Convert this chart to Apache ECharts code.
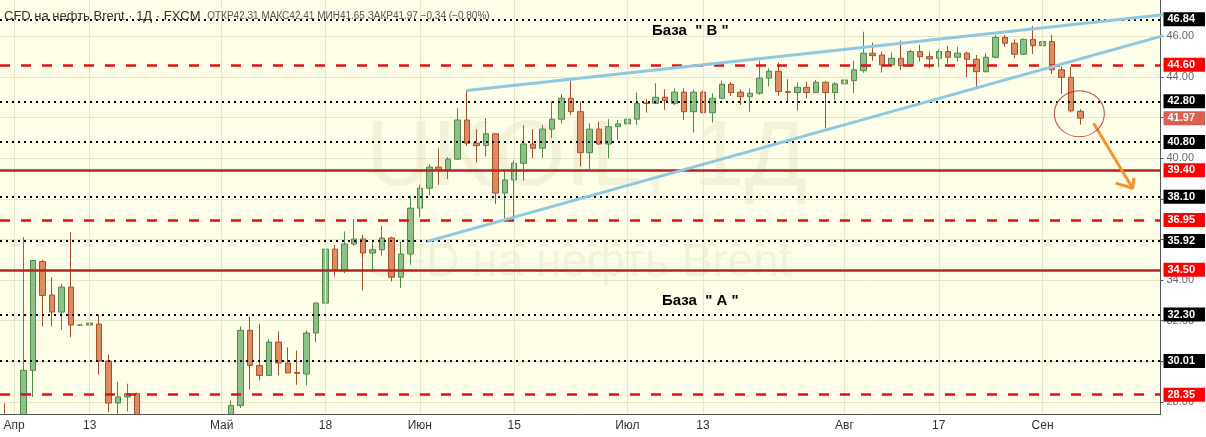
<!DOCTYPE html>
<html>
<head>
<meta charset="utf-8">
<title>UKOIL 1Д</title>
<script src="https://cdn.jsdelivr.net/npm/echarts/dist/echarts.min.js"></script>
<style>
  html, body { margin: 0; padding: 0; background: #fff; }
  #chart { width: 1206px; height: 437px; }
</style>
</head>
<body>
<div id="chart"></div>
<script>
// trading days from 2020-03-31, weekdays only
const dayCount = 123;
const dates = [];
const cursor = new Date(Date.UTC(2020, 2, 31));
while (dates.length < dayCount) {
  const wd = cursor.getUTCDay();
  if (wd !== 0 && wd !== 6) dates.push(cursor.toISOString().slice(0, 10));
  cursor.setUTCDate(cursor.getUTCDate() + 1);
}

const tickDates = ["2020-04-01", "2020-04-13", "2020-05-01", "2020-05-18", "2020-06-01", "2020-06-15",
  "2020-07-01", "2020-07-13", "2020-08-03", "2020-08-17", "2020-09-01"];
const tickLabels = ["Апр", "13", "Май", "18", "Июн", "15", "Июл", "13", "Авг", "17", "Сен"];

// OHLC, Mar 31 .. Sep 7
const opens = [22.8, 24.6, 25.0, 29.55, 34.91, 33.26, 32.42, 33.65, 31.78, 31.78,
  31.83, 30.01, 27.94, 28.24, 28.40, 25.6, 19.3, 20.4, 21.3, 21.4,
  19.9, 20.5, 22.5, 25.3, 26.4, 27.82, 31.52, 29.79, 29.30, 30.94,
  29.91, 29.45, 29.37, 31.39, 32.86, 35.52, 34.50, 35.77, 36.02, 35.33,
  35.49, 36.07, 34.14, 35.28, 37.54, 38.52, 39.56, 39.39, 39.95, 41.88,
  40.74, 40.62, 41.20, 38.28, 38.93, 39.75, 40.70, 40.49, 41.43, 41.92,
  42.95, 42.29, 40.27, 41.43, 40.70, 41.55, 41.69, 41.92, 42.72, 42.70,
  43.00, 42.70, 43.25, 42.29, 43.25, 42.24, 42.95, 43.64, 43.25, 43.03,
  43.20, 43.94, 44.28, 43.28, 43.23, 43.49, 43.23, 43.74, 43.23, 43.66,
  43.82, 44.31, 45.17, 45.08, 44.59, 44.92, 44.56, 45.25, 45.00, 44.92,
  45.25, 44.97, 45.17, 44.87, 44.26, 44.97, 45.95, 45.66, 45.12, 45.85,
  45.54, 45.74, 44.35, 43.98, 42.31];
const closes = [22.7, 24.9, 29.55, 34.96, 33.24, 32.42, 33.65, 31.78, 31.78, 31.88,
  30.01, 27.94, 28.24, 28.40, 25.6, 19.3, 20.4, 21.3, 21.4, 19.9,
  20.5, 22.5, 25.3, 26.4, 27.82, 31.52, 29.79, 29.30, 30.94, 29.91,
  29.42, 29.40, 31.39, 32.86, 35.52, 34.50, 35.77, 36.02, 35.33, 35.49,
  36.07, 34.14, 35.28, 37.54, 38.52, 39.56, 39.39, 39.95, 41.88, 40.74,
  40.62, 41.20, 38.28, 38.93, 39.75, 40.70, 40.49, 41.43, 41.92, 42.95,
  42.29, 40.27, 41.43, 40.70, 41.55, 41.69, 41.92, 42.70, 42.70, 43.00,
  42.84, 43.25, 42.29, 43.25, 42.24, 42.95, 43.64, 43.23, 43.03, 43.20,
  43.94, 44.28, 43.28, 43.24, 43.49, 43.23, 43.74, 43.23, 43.66, 43.85,
  44.35, 45.17, 45.05, 44.59, 44.92, 44.56, 45.25, 45.00, 44.89, 45.25,
  44.97, 45.17, 44.87, 44.26, 44.97, 45.95, 45.66, 45.12, 45.85, 45.54,
  45.74, 44.35, 43.98, 42.33, 41.97];
const lows = [22.0, 23.6, 24.6, 28.24, 31.71, 31.71, 31.55, 31.19, 31.76, 30.60,
  29.34, 27.5, 27.3, 27.53, 24.8, 17.9, 16.0, 19.9, 20.4, 19.2,
  19.0, 20.1, 22.1, 25.0, 25.8, 27.70, 28.60, 29.05, 29.30, 29.30,
  29.42, 28.84, 28.81, 30.94, 32.86, 34.17, 34.34, 35.68, 33.48, 34.42,
  35.19, 33.93, 33.60, 34.75, 37.09, 38.19, 38.69, 38.97, 39.92, 40.60,
  39.78, 40.08, 37.75, 37.05, 37.05, 38.89, 40.00, 40.00, 40.98, 41.72,
  42.13, 39.59, 39.46, 40.65, 40.00, 40.90, 40.93, 41.64, 42.24, 42.67,
  42.38, 42.62, 41.88, 41.26, 42.21, 41.75, 42.90, 43.07, 42.62, 42.29,
  43.12, 43.53, 43.07, 42.74, 42.34, 42.95, 43.20, 41.47, 42.87, 42.79,
  43.20, 44.21, 44.80, 44.21, 44.51, 44.35, 44.51, 44.76, 44.43, 44.48,
  44.67, 44.76, 43.99, 43.52, 44.21, 44.92, 45.49, 44.92, 45.08, 45.13,
  45.49, 44.15, 43.17, 42.25, 41.65];
const highs = [27.93, 25.6, 36.11, 35.00, 35.00, 34.14, 33.81, 36.36, 31.80, 33.16,
  32.29, 30.32, 28.99, 28.89, 28.45, 26.0, 21.1, 22.4, 21.9, 21.6,
  20.8, 22.9, 25.9, 27.84, 28.07, 31.71, 32.20, 31.84, 31.08, 31.47,
  30.68, 30.52, 31.52, 32.90, 35.68, 35.73, 36.39, 37.00, 36.23, 35.85,
  36.67, 36.14, 35.90, 38.14, 38.69, 39.70, 40.49, 40.05, 42.46, 43.33,
  41.43, 41.97, 41.22, 39.42, 39.88, 41.63, 41.43, 41.63, 42.79, 43.16,
  43.82, 42.79, 41.72, 41.80, 41.92, 41.88, 42.57, 43.23, 42.90, 43.69,
  43.39, 43.44, 43.44, 43.39, 43.33, 43.20, 43.82, 43.74, 43.39, 43.44,
  44.80, 44.43, 44.71, 43.89, 43.74, 43.77, 43.85, 43.77, 43.74, 44.43,
  44.80, 46.23, 45.69, 45.25, 45.21, 45.79, 45.33, 45.58, 45.25, 45.36,
  45.53, 45.49, 45.25, 45.08, 45.17, 46.07, 46.07, 45.85, 45.90, 46.51,
  46.20, 46.07, 44.51, 44.51, 42.41];

// horizontal levels
const dottedLevels = [46.84, 42.80, 40.80, 38.10, 35.92, 32.30, 30.01];
const dashedLevels = [44.60, 36.95, 28.35];
const solidLevels = [39.40, 34.50];

// annotations, x in trading-day index (0 = 2020-03-31)
const upperTrend = [[49, 43.33], [123, 47.08]];
const lowerTrend = [[44.8, 35.90], [123, 46.06]];
const arrowShaft = [[115.4, 41.72], [119.55, 38.52]];
const arrowHead = [[117.75, 38.77], [119.55, 38.52], [119.7, 39.02]];
const circleAt = [[113.9, 42.19]];

const yMin = 27.40;
const yMax = 47.79;

const candles = opens.map((o, i) => [o, closes[i], lows[i], highs[i]]);
const lastClose = closes[closes.length - 1];

const isTick = (idx, value) => tickDates.indexOf(value) >= 0;

const boxLabel = (bg) => ({
  show: true,
  position: "end",
  distance: 3,
  formatter: p => p.value.toFixed(2),
  color: "#fff",
  backgroundColor: bg,
  fontFamily: "Liberation Sans, Arial, sans-serif",
  fontSize: 11,
  fontWeight: "bold",
  padding: [2, 10, 1, 4],
  borderRadius: 0
});

const levelLines = [
  ...dottedLevels.map(v => ({
    yAxis: v,
    lineStyle: { color: "#000", width: 2, type: [2, 4] },
    label: boxLabel("#000")
  })),
  ...dashedLevels.map(v => ({
    yAxis: v,
    lineStyle: { color: "#e01010", width: 2.5, type: [10, 11] },
    label: boxLabel("#ff0000")
  })),
  ...solidLevels.map(v => ({
    yAxis: v,
    lineStyle: { color: "#b3261e", width: 2.5, type: "solid" },
    label: boxLabel("#ff0000")
  })),
  {
    yAxis: lastClose,
    lineStyle: { color: "rgba(0,0,0,0)", width: 1 },
    label: boxLabel("#d9604c")
  }
];

// faint vertical grid at labelled dates
const dateGrid = tickDates.map(d => ({
  xAxis: d,
  lineStyle: { color: "#e6e6c8", width: 1, type: "solid" },
  label: { show: false }
}));

const chart = echarts.init(document.getElementById("chart"));

const option = {
  backgroundColor: "#fff",
  animation: false,
  grid: {
    left: -2.5,
    right: 45.5,
    top: 0,
    bottom: 23,
    show: true,
    backgroundColor: "#fdfde8",
    borderWidth: 0
  },
  xAxis: [
    {
      type: "category",
      data: dates,
      boundaryGap: true,
      z: 8,
      axisLine: { onZero: false, lineStyle: { color: "#555" } },
      axisTick: { interval: isTick, length: 4, lineStyle: { color: "#555" }, alignWithLabel: true },
      axisLabel: {
        interval: isTick,
        formatter: v => tickLabels[tickDates.indexOf(v)] || "",
        color: "#333",
        fontSize: 12,
        fontFamily: "Liberation Sans, Arial, sans-serif",
        margin: 6
      },
      splitLine: { show: false }
    },
    {
      type: "value",
      min: -0.5,
      max: dayCount - 0.5,
      show: false,
      axisLine: { show: false, onZero: false },
      splitLine: { show: false }
    }
  ],
  yAxis: {
    type: "value",
    position: "right",
    min: yMin,
    max: yMax,
    splitNumber: 10,
    axisLine: { show: true, onZero: false, lineStyle: { color: "#555" } },
    axisTick: { show: true, length: 3, lineStyle: { color: "#555" } },
    axisLabel: {
      color: "#666",
      fontSize: 11,
      fontFamily: "Liberation Sans, Arial, sans-serif",
      margin: 6,
      showMinLabel: false,
      showMaxLabel: false,
      formatter: v => v.toFixed(2)
    },
    splitLine: { show: true, showMinLine: false, showMaxLine: false, lineStyle: { color: "#e6e6c8" } }
  },
  graphic: [
    {
      type: "text",
      left: 366,
      top: 114,
      z: 1,
      silent: true,
      style: {
        text: "UKOIL, 1Д",
        font: "92px 'Liberation Sans', Arial, sans-serif",
        fill: "rgba(110,110,50,0.08)"
      }
    },
    {
      type: "text",
      left: 365,
      top: 240,
      z: 1,
      silent: true,
      style: {
        text: "CFD на нефть Brent",
        font: "46px 'Liberation Sans', Arial, sans-serif",
        fill: "rgba(110,110,50,0.08)"
      }
    },
    {
      // white strip under the time axis, hides the part of candles below the price range
      type: "rect",
      left: 0,
      top: 414.5,
      z: 7,
      silent: true,
      shape: { width: 1161, height: 23 },
      style: { fill: "#fff" }
    },
    {
      type: "text",
      left: 4,
      top: 10,
      z: 10,
      style: {
        text: "{a|CFD на нефть Brent · 1Д · FXCM}  {b|ОТКР42.31 МАКС42.41 МИН41.65 ЗАКР41.97 −0.34 (−0.80%)}",
        rich: {
          a: { fontSize: 13, fill: "#333", fontFamily: "Liberation Sans, Arial, sans-serif" },
          b: { fontSize: 10, fill: "#555", fontFamily: "Liberation Sans, Arial, sans-serif" }
        }
      }
    },
    {
      type: "text",
      left: 652,
      top: 23,
      z: 10,
      style: {
        text: "База  \" В \"",
        font: "bold 15px 'Liberation Sans', Arial, sans-serif",
        fill: "#000"
      }
    },
    {
      type: "text",
      left: 662,
      top: 293,
      z: 10,
      style: {
        text: "База  \" А \"",
        font: "bold 15px 'Liberation Sans', Arial, sans-serif",
        fill: "#000"
      }
    }
  ],
  series: [
    {
      type: "line",
      xAxisIndex: 0,
      data: [],
      z: 1,
      silent: true,
      markLine: {
        silent: true,
        symbol: ["none", "none"],
        animation: false,
        data: dateGrid
      }
    },
    {
      name: "UKOIL",
      type: "candlestick",
      xAxisIndex: 0,
      barWidth: 6,
      clip: true,
      data: candles,
      itemStyle: {
        color: "#8dbf86",
        color0: "#e08a60",
        borderColor: "#4e8a48",
        borderColor0: "#a2522e",
        borderWidth: 1
      },
      markLine: {
        silent: true,
        symbol: ["none", "none"],
        animation: false,
        data: levelLines
      }
    },
    {
      type: "line",
      xAxisIndex: 1,
      data: upperTrend,
      symbol: "none",
      clip: true,
      z: 5,
      lineStyle: { color: "#8cc8e0", width: 3 }
    },
    {
      type: "line",
      xAxisIndex: 1,
      data: lowerTrend,
      symbol: "none",
      clip: true,
      z: 5,
      lineStyle: { color: "#8cc8e0", width: 3 }
    },
    {
      type: "line",
      xAxisIndex: 1,
      data: arrowShaft,
      symbol: "none",
      z: 6,
      lineStyle: { color: "#f5922a", width: 3 }
    },
    {
      type: "line",
      xAxisIndex: 1,
      data: arrowHead,
      symbol: "none",
      z: 6,
      lineStyle: { color: "#f5922a", width: 3 }
    },
    {
      type: "scatter",
      xAxisIndex: 1,
      data: circleAt,
      symbol: "circle",
      symbolSize: [50, 46],
      z: 6,
      silent: true,
      itemStyle: { color: "rgba(0,0,0,0)", borderColor: "#b22222", borderWidth: 1 }
    }
  ]
};

chart.setOption(option);
</script>
</body>
</html>
